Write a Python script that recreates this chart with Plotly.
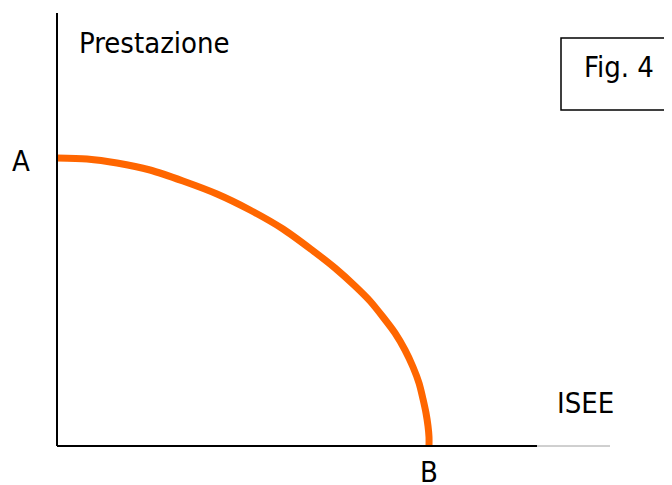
import plotly.graph_objects as go

# curve (ISEE on x, Prestazione on y)
isee = [0, 30, 60, 93, 126, 160, 193, 226, 255, 278, 298, 313, 326, 338, 348, 356, 362, 366, 369, 371, 372, 372]
prestazione = [288, 287, 283, 276, 265, 252, 236, 217, 196, 178, 160, 145, 129, 113, 96, 79, 63, 47, 33, 20, 9, 0]

x_max = 553
y_max = 433

fig = go.Figure()
fig.add_trace(go.Scatter(
    x=isee, y=prestazione, mode="lines",
    line=dict(color="#FF6600", width=7, shape="spline", smoothing=0.8),
    hoverinfo="skip", showlegend=False
))

# page has an 8px body margin, so screen coords map straight onto paper coords here
def px(v):
    return (v - 57) / x_max

def py(v):
    return (446 - v) / y_max

shapes = [
    # vertical axis
    dict(type="line", xref="paper", yref="paper", x0=0, x1=0, y0=0, y1=1,
         line=dict(color="black", width=2)),
    # horizontal axis, black then thin grey
    dict(type="line", xref="paper", yref="paper", x0=0, x1=px(537), y0=0, y1=0,
         line=dict(color="black", width=2)),
    dict(type="line", xref="paper", yref="paper", x0=px(537), x1=1, y0=0, y1=0,
         line=dict(color="#a0a0a0", width=1)),
    # Fig. 4 box
    dict(type="rect", xref="paper", yref="paper", x0=px(561), x1=px(690),
         y0=py(110), y1=py(38), line=dict(color="black", width=1.5)),
]

font = dict(family="'DejaVu Sans Condensed', 'DejaVu Sans', sans-serif", size=29, color="black")
annotations = [
    dict(text="Prestazione", x=px(77), y=py(43.5), xanchor="left", yanchor="middle"),
    dict(text="A", x=px(21), y=py(161), xanchor="center", yanchor="middle"),
    dict(text="B", x=px(429), y=py(472), xanchor="center", yanchor="middle"),
    dict(text="ISEE", x=px(585), y=py(403), xanchor="center", yanchor="middle"),
    dict(text="Fig. 4", x=px(618.5), y=py(67), xanchor="center", yanchor="middle"),
]
for a in annotations:
    a.update(xref="paper", yref="paper", showarrow=False, font=font)

fig.update_layout(
    width=664, height=477,
    margin=dict(l=49, r=62, t=5, b=39),
    plot_bgcolor="white", paper_bgcolor="white",
    xaxis=dict(range=[0, x_max], visible=False),
    yaxis=dict(range=[0, y_max], visible=False),
    shapes=shapes, annotations=annotations,
)

fig.write_html("out.html")
